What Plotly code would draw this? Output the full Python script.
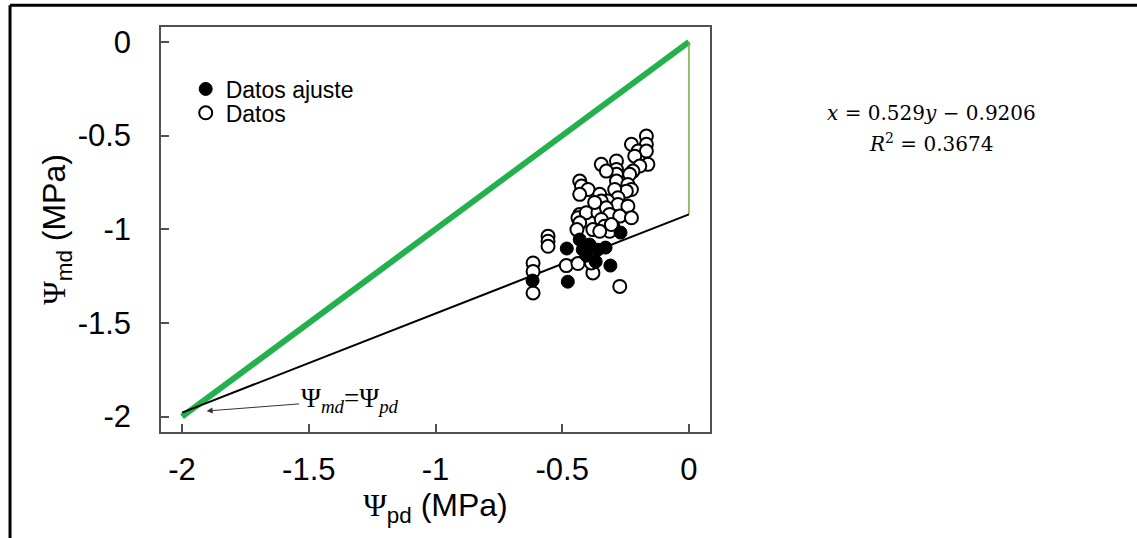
import plotly.graph_objects as go

# Leaf water potentials (MPa): predawn (pd) vs midday (md)
fit_pd = [-0.617, -0.478, -0.482, -0.431, -0.392, -0.404, -0.368, -0.329,
          -0.310, -0.270, -0.360, -0.419]
fit_md = [-1.274, -1.280, -1.103, -1.055, -1.082, -1.141, -1.173, -1.098,
          -1.194, -1.018, -1.109, -1.109]

all_pd = [-0.168, -0.168, -0.227, -0.201, -0.168, -0.214, -0.162, -0.194,
          -0.221, -0.286, -0.286, -0.286, -0.346, -0.326, -0.286, -0.234,
          -0.241, -0.227, -0.247, -0.431, -0.424, -0.398, -0.431, -0.352,
          -0.293, -0.280, -0.320, -0.346, -0.365, -0.280, -0.241, -0.431,
          -0.438, -0.405, -0.431, -0.359, -0.326, -0.313, -0.273, -0.227,
          -0.346, -0.333, -0.300, -0.313, -0.379, -0.556, -0.556, -0.556,
          -0.484, -0.438, -0.379, -0.615, -0.615, -0.615, -0.273, -0.385,
          -0.352, -0.306, -0.372, -0.442]
all_md = [-0.503, -0.547, -0.547, -0.583, -0.583, -0.610, -0.654, -0.663,
          -0.690, -0.636, -0.681, -0.707, -0.654, -0.690, -0.743, -0.707,
          -0.761, -0.788, -0.797, -0.743, -0.770, -0.788, -0.814, -0.814,
          -0.788, -0.832, -0.850, -0.850, -0.877, -0.868, -0.877, -0.921,
          -0.939, -0.912, -0.966, -0.912, -0.886, -0.921, -0.930, -0.939,
          -0.948, -0.984, -0.984, -1.011, -1.002, -1.037, -1.064, -1.091,
          -1.194, -1.183, -1.233, -1.180, -1.225, -1.340, -1.305, -1.180,
          -1.011, -0.975, -0.857, -1.002]

# Linear fit: md = slope * pd + intercept
slope = 0.529
intercept = -0.9206
r2 = 0.3674
fit_x = [-2.0, 0.0]
fit_y = [slope * v + intercept for v in fit_x]

# 1:1 reference line
one_x = [-2.0, 0.0]
one_y = [-2.0, 0.0]

x_ticks = [-2, -1.5, -1, -0.5, 0]
y_ticks = [0, -0.5, -1, -1.5, -2]

fig = go.Figure()

fig.add_trace(go.Scatter(x=one_x, y=one_y, mode="lines",
                         line=dict(color="#22b14c", width=6),
                         showlegend=False, hoverinfo="skip"))
fig.add_trace(go.Scatter(x=[0, 0], y=[0, intercept], mode="lines",
                         line=dict(color="#70ad47", width=1.5),
                         showlegend=False, hoverinfo="skip"))
fig.add_trace(go.Scatter(x=fit_x, y=fit_y, mode="lines",
                         line=dict(color="black", width=2),
                         showlegend=False, hoverinfo="skip"))
fig.add_trace(go.Scatter(x=all_pd, y=all_md, mode="markers", name="Datos",
                         legend="legend2",
                         marker=dict(symbol="circle", size=13, color="white",
                                     line=dict(color="black", width=2))))
fig.add_trace(go.Scatter(x=fit_pd, y=fit_md, mode="markers", name="Datos ajuste",
                         legend="legend",
                         marker=dict(symbol="circle", size=13, color="black",
                                     line=dict(color="black", width=1))))

axis_common = dict(
    showgrid=False, zeroline=False, showline=True, mirror=True,
    linecolor="#505050", linewidth=1.5, ticks="inside", ticklen=8,
    tickcolor="#505050", tickwidth=1.5,
    tickfont=dict(family="Liberation Sans, Arial", size=31, color="black"),
)

fig.update_xaxes(range=[-2.083, 0.083], tickvals=x_ticks,
                 ticktext=[f"{v:g}" for v in x_ticks], ticklabelstandoff=9,
                 title=dict(text='<span style="font-family:Liberation Serif">Ψ</span><sub>pd</sub> (MPa)',
                            font=dict(family="Liberation Sans, Arial", size=32, color="black"),
                            standoff=6),
                 **axis_common)
fig.update_yaxes(range=[-2.082, 0.079], tickvals=y_ticks,
                 ticktext=[f"{v:g}" for v in y_ticks], ticklabelstandoff=22,
                 title=dict(text='<span style="font-family:Liberation Serif">Ψ</span><sub>md</sub> (MPa)',
                            font=dict(family="Liberation Sans, Arial", size=32, color="black"),
                            standoff=2),
                 **axis_common)

fig.add_annotation(x=-1.903, y=-1.970, xref="x", yref="y",
                   ax=143, ay=-11, axref="pixel", ayref="pixel",
                   text="Ψ<sub><i>md</i></sub>=Ψ<sub><i>pd</i></sub>", showarrow=True,
                   arrowhead=2, arrowsize=1.2, arrowwidth=1, arrowcolor="#333333",
                   standoff=0,
                   font=dict(family="Liberation Serif, DejaVu Serif", size=27, color="black"))

eq_font = dict(family="DejaVu Serif, Liberation Serif", size=20, color="black")
fig.add_annotation(x=1.403, y=0.787, xref="paper", yref="paper", showarrow=False,
                   xanchor="center", yanchor="middle",
                   text=f"<i>x</i> = {slope}<i>y</i> − {abs(intercept)}", font=eq_font)
fig.add_annotation(x=1.403, y=0.713, xref="paper", yref="paper", showarrow=False,
                   xanchor="center", yanchor="middle",
                   text=f"<i>R</i><sup>2</sup> = {r2}", font=eq_font)

# Frame along the top and left of the figure
fig.add_shape(type="line", xref="paper", yref="paper",
              x0=-0.275, x1=1.80, y0=1.054, y1=1.054,
              line=dict(color="black", width=3))
fig.add_shape(type="line", xref="paper", yref="paper",
              x0=-0.275, x1=-0.275, y0=1.054, y1=-0.27,
              line=dict(color="black", width=3))

legend_font = dict(family="Liberation Sans, Arial", size=23, color="black")
fig.update_layout(
    width=1137, height=538,
    margin=dict(l=161, r=427, t=27, b=106),
    paper_bgcolor="white", plot_bgcolor="white",
    legend=dict(x=0.045, y=0.847, xanchor="left", yanchor="middle",
                bgcolor="rgba(0,0,0,0)", font=legend_font, itemwidth=30),
    legend2=dict(x=0.045, y=0.788, xanchor="left", yanchor="middle",
                 bgcolor="rgba(0,0,0,0)", font=legend_font, itemwidth=30),
    showlegend=True,
)

fig.write_html("out.html")
